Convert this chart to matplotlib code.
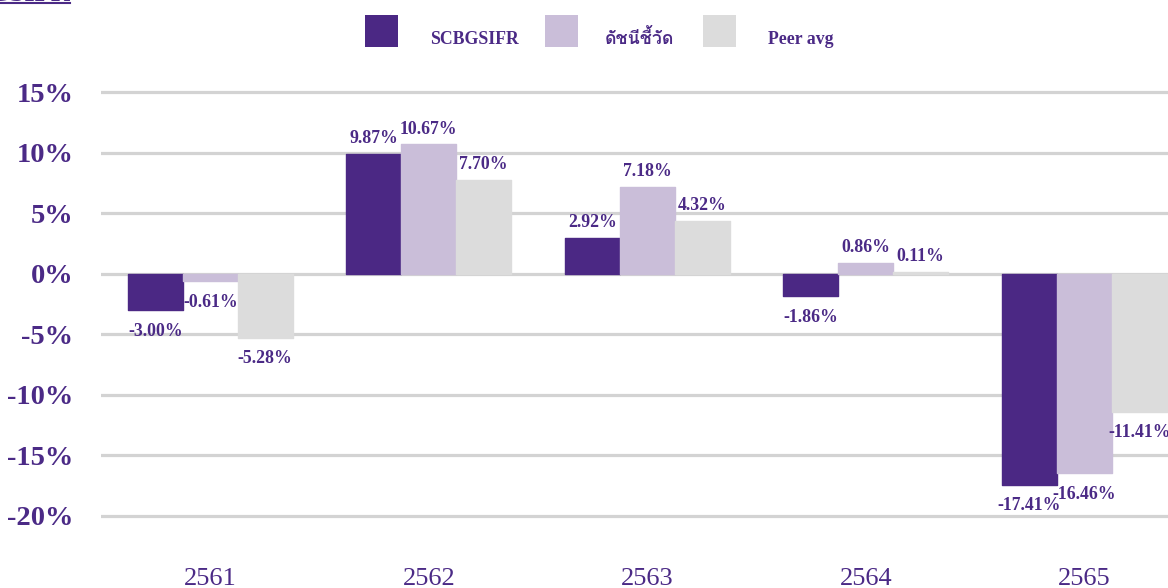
import matplotlib
matplotlib.use("Agg")
import numpy as np
import matplotlib.pyplot as plt
from matplotlib import font_manager
from matplotlib.ft2font import FT2Font
from matplotlib.patches import Rectangle
from matplotlib.lines import Line2D

years = ["2561", "2562", "2563", "2564", "2565"]
fund = [-3.00, 9.87, 2.92, -1.86, -17.41]
benchmark = [-0.61, 10.67, 7.18, 0.86, -16.46]
peer = [-5.28, 7.70, 4.32, 0.11, -11.41]
series_names = ["SCBGSIFR", "ดัชนีชี้วัด", "Peer avg"]
yticks = [15, 10, 5, 0, -5, -10, -15, -20]

PURPLE = "#4B2884"
LAVENDER = "#CABED9"
GREY = "#DCDCDC"
TEXT = "#4B2A86"
GRID = "#D3D3D3"


def find_thai_font():
    # pick any installed font that has Thai glyphs
    for f in font_manager.fontManager.ttflist:
        try:
            ft = FT2Font(f.fname)
            cmap = ft.get_charmap()
        except Exception:
            continue
        if 0x0E14 in cmap and 0x0E0A in cmap:
            return f.name
    return None


thai = find_thai_font()
serif_bold = ["Liberation Serif"] + ([thai] if thai else []) + ["DejaVu Sans"]

W, H = 1168, 588
fig = plt.figure(figsize=(W / 100, H / 100), dpi=100)

# axes in pixel terms: x from 101 to 1193.5 (goes past right edge)
ymin, ymax = -23.5, 16
left_px, right_px = 101, 1193.5
top_px = 92 - (ymax - 15) * 12.11
bot_px = 516 + (-20 - ymin) * 12.11
ax = fig.add_axes([left_px / W, 1 - bot_px / H, (right_px - left_px) / W, (bot_px - top_px) / H])

x = np.arange(len(years))
w = 0.2517
colors = [PURPLE, LAVENDER, GREY]
for i, vals in enumerate([fund, benchmark, peer]):
    xs = x + (i - 1) * w
    ax.bar(xs, vals, width=w, color=colors[i], edgecolor=colors[i], linewidth=1,
           joinstyle="round", zorder=2)
    for xi, v in zip(xs, vals):
        off = 5 if v >= 0 else -9
        ax.annotate(f"{v:.2f}%", (xi, v), xytext=(0, off), textcoords="offset points",
                    ha="center", va="bottom" if v >= 0 else "top",
                    fontsize=12.8, fontweight="bold", family="Liberation Serif",
                    color=TEXT, zorder=3)

ax.set_xlim(-0.5, 4.5)
ax.set_ylim(ymin, ymax)
ax.set_yticks(yticks)
ax.set_yticklabels([f"{t}%" for t in yticks])
for t in yticks:
    ax.axhline(t, color=GRID, lw=2.3, zorder=1)

ax.set_xticks(x)
ax.set_xticklabels(years)
for lab in ax.get_xticklabels():
    lab.set_family("Liberation Serif")
    lab.set_fontsize(19)
    lab.set_color(TEXT)
for lab in ax.get_yticklabels():
    lab.set_family("Liberation Serif")
    lab.set_fontweight("bold")
    lab.set_fontsize(20.5)
    lab.set_color(TEXT)
ax.tick_params(axis="y", length=0, pad=20)
ax.tick_params(axis="x", length=0, pad=7)
for s in ax.spines.values():
    s.set_visible(False)

# legend drawn by hand: squares and labels in figure pixels
leg_box_x = [365, 545, 703]
leg_txt_x = [430, 605, 768]
for bx, tx, c, name in zip(leg_box_x, leg_txt_x, colors, series_names):
    fig.add_artist(Rectangle((bx / W, 1 - 47 / H), 33 / W, 32 / H,
                             transform=fig.transFigure, facecolor=c, edgecolor="none"))
    fig.text(tx / W, 1 - 44 / H, name, ha="left", va="baseline", fontsize=12.8,
             fontweight="bold", family=serif_bold, color=TEXT)

# cut-off title at top-left, only the bottom of the letters shows
fig.text(70 / W, 1 - 1 / H, "SCBGSIFR", ha="right", va="baseline", fontsize=19,
         fontweight="bold", family="Liberation Serif", color=TEXT)
fig.add_artist(Line2D([0, 70 / W], [1 - 3 / H, 1 - 3 / H], color=TEXT, lw=1.5))

fig.savefig("out.png", dpi=100)
